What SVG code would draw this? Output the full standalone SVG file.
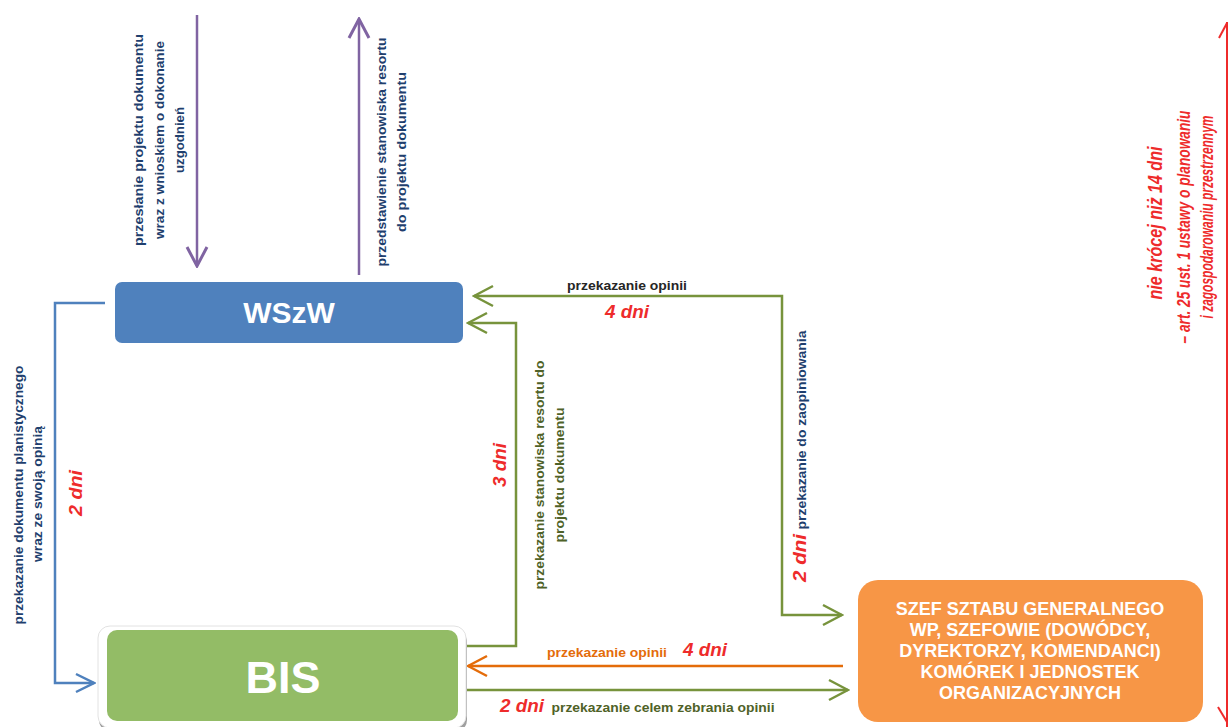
<svg xmlns="http://www.w3.org/2000/svg" width="1229" height="727" viewBox="0 0 1229 727">
<style>
text{font-family:"Liberation Sans",Arial,sans-serif;font-weight:bold}
.navy{fill:#1F3F6E;font-size:12.5px}
.dgreen{fill:#4F6228;font-size:12.5px}
.gray{fill:#262626;font-size:12.5px}
.orangeT{fill:#E46C0A;font-size:12.5px}
.red{fill:#EE2B2B;font-style:italic;font-size:18px}
.redR{fill:#EE2B2B;font-style:italic}
.box{fill:#FFFFFF;text-anchor:middle}
.ln{fill:none;stroke-width:2.5}
</style>
<defs>
<marker id="aP" markerUnits="userSpaceOnUse" viewBox="-22 -12 24 24" refX="0" refY="0" markerWidth="24" markerHeight="24" orient="auto-start-reverse"><path d="M-19,-10 L0,0 L-19,10" fill="none" stroke="#8064A2" stroke-width="3"/></marker>
<marker id="aB" markerUnits="userSpaceOnUse" viewBox="-22 -12 24 24" refX="0" refY="0" markerWidth="24" markerHeight="24" orient="auto-start-reverse"><path d="M-18,-9 L0,0 L-18,9" fill="none" stroke="#4F81BD" stroke-width="2.5"/></marker>
<marker id="aG" markerUnits="userSpaceOnUse" viewBox="-22 -12 24 24" refX="0" refY="0" markerWidth="24" markerHeight="24" orient="auto-start-reverse"><path d="M-19,-10 L0,0 L-19,10" fill="none" stroke="#77933C" stroke-width="2.5"/></marker>
<marker id="aO" markerUnits="userSpaceOnUse" viewBox="-22 -12 24 24" refX="0" refY="0" markerWidth="24" markerHeight="24" orient="auto-start-reverse"><path d="M-19,-10 L0,0 L-19,10" fill="none" stroke="#E46C0A" stroke-width="2.5"/></marker>
</defs>

<g id="connectors">
<line class="ln" x1="197" y1="15" x2="197" y2="266" stroke="#8064A2" stroke-width="3" marker-end="url(#aP)"/>
<line class="ln" x1="359" y1="275" x2="359" y2="19" stroke="#8064A2" stroke-width="3" marker-end="url(#aP)"/>
<polyline class="ln" points="105,303 55,303 55,683 94,683" stroke="#4F81BD" marker-end="url(#aB)"/>
<polyline class="ln" points="463,646 516,646 516,323 468,323" stroke="#77933C" marker-end="url(#aG)"/>
<polyline class="ln" points="474,296 782,296 782,615 842,615" stroke="#77933C" marker-start="url(#aG)" marker-end="url(#aG)"/>
<line class="ln" x1="843" y1="666" x2="468" y2="666" stroke="#E46C0A" marker-end="url(#aO)"/>
<line class="ln" x1="463" y1="690" x2="848" y2="690" stroke="#77933C" marker-end="url(#aG)"/>
<line x1="1227" y1="22" x2="1227" y2="727" stroke="#EE2B2B" stroke-width="2"/>
<polyline points="1219,38 1227,23" fill="none" stroke="#EE2B2B" stroke-width="2"/>
<polyline points="1218,707 1227,722" fill="none" stroke="#EE2B2B" stroke-width="2"/>

<text class="navy" text-anchor="middle" transform="translate(143,140) rotate(-90)" textLength="212" lengthAdjust="spacingAndGlyphs">przesłanie projektu  dokumentu</text>
<text class="navy" text-anchor="middle" transform="translate(164,140) rotate(-90)" textLength="198" lengthAdjust="spacingAndGlyphs">wraz z wnioskiem o dokonanie</text>
<text class="navy" text-anchor="middle" transform="translate(184,140) rotate(-90)" textLength="66" lengthAdjust="spacingAndGlyphs">uzgodnień</text>

<text class="navy" text-anchor="middle" transform="translate(386,152) rotate(-90)" textLength="229" lengthAdjust="spacingAndGlyphs">przedstawienie stanowiska resortu</text>
<text class="navy" text-anchor="middle" transform="translate(406,152) rotate(-90)" textLength="160" lengthAdjust="spacingAndGlyphs">do projektu dokumentu</text>

<text class="navy" text-anchor="middle" transform="translate(23,495) rotate(-90)" textLength="259" lengthAdjust="spacingAndGlyphs">przekazanie dokumentu planistycznego</text>
<text class="navy" text-anchor="middle" transform="translate(42,494) rotate(-90)" textLength="136" lengthAdjust="spacingAndGlyphs">wraz ze swoją opinią</text>
<text class="red" text-anchor="middle" transform="translate(82,493) rotate(-90)" textLength="46" lengthAdjust="spacingAndGlyphs">2 dni</text>

<text class="red" text-anchor="middle" transform="translate(506,465) rotate(-90)" textLength="44" lengthAdjust="spacingAndGlyphs">3 dni</text>
<text class="dgreen" text-anchor="middle" transform="translate(544,475) rotate(-90)" textLength="229" lengthAdjust="spacingAndGlyphs">przekazanie stanowiska resortu do</text>
<text class="dgreen" text-anchor="middle" transform="translate(564,475) rotate(-90)" textLength="135" lengthAdjust="spacingAndGlyphs">projektu dokumentu</text>

<text class="gray" text-anchor="middle" x="627" y="290" textLength="120" lengthAdjust="spacingAndGlyphs">przekazanie opinii</text>
<text class="red" text-anchor="middle" x="627" y="318" textLength="44" lengthAdjust="spacingAndGlyphs">4 dni</text>

<text class="navy" text-anchor="middle" transform="translate(806,430) rotate(-90)" textLength="199" lengthAdjust="spacingAndGlyphs">przekazanie do zaopiniowania</text>
<text class="red" text-anchor="middle" transform="translate(806,558) rotate(-90)" textLength="48" lengthAdjust="spacingAndGlyphs">2 dni</text>

<text class="orangeT" text-anchor="middle" x="607" y="657" textLength="120" lengthAdjust="spacingAndGlyphs">przekazanie opinii</text>
<text class="red" text-anchor="middle" x="705" y="656" textLength="44" lengthAdjust="spacingAndGlyphs">4 dni</text>

<text class="red" text-anchor="middle" x="522" y="712" textLength="44" lengthAdjust="spacingAndGlyphs">2 dni</text>
<text class="dgreen" text-anchor="middle" x="663" y="712" textLength="223" lengthAdjust="spacingAndGlyphs">przekazanie celem zebrania opinii</text>

<text class="redR" font-size="21" text-anchor="middle" transform="translate(1162,223) rotate(-90)" textLength="153" lengthAdjust="spacingAndGlyphs">nie krócej niż 14 dni</text>
<text class="redR" font-size="18" text-anchor="middle" transform="translate(1190,227) rotate(-90)" textLength="233" lengthAdjust="spacingAndGlyphs">– art. 25 ust. 1 ustawy o planowaniu</text>
<text class="redR" font-size="18" text-anchor="middle" transform="translate(1213,217) rotate(-90)" textLength="203" lengthAdjust="spacingAndGlyphs">i zagospodarowaniu przestrzennym</text>
</g>

<g id="wszw">
<rect x="115" y="282" width="348" height="61" rx="7" fill="#4F81BD"/>
<text class="box" x="289" y="323" font-size="30">WSzW</text>
</g>

<g id="bis">
<rect x="99" y="630" width="368" height="102" rx="12" fill="#A0A0A0"/>
<rect x="98" y="626" width="368" height="102" rx="12" fill="#FFFFFF" stroke="#E2E2E2" stroke-width="1"/>
<rect x="107" y="630" width="351" height="91" rx="10" fill="#93BC66"/>
<text class="box" x="283" y="693" font-size="45">BIS</text>
</g>

<g id="szef">
<rect x="858" y="580" width="345" height="142" rx="20" fill="#F79646"/>
<text class="box" font-size="18" x="1030" y="615">SZEF SZTABU GENERALNEGO</text>
<text class="box" font-size="18" x="1030" y="636">WP, SZEFOWIE (DOWÓDCY,</text>
<text class="box" font-size="18" x="1030" y="657">DYREKTORZY, KOMENDANCI)</text>
<text class="box" font-size="18" x="1030" y="678">KOMÓREK I JEDNOSTEK</text>
<text class="box" font-size="18" x="1030" y="699">ORGANIZACYJNYCH</text>
</g>
</svg>
